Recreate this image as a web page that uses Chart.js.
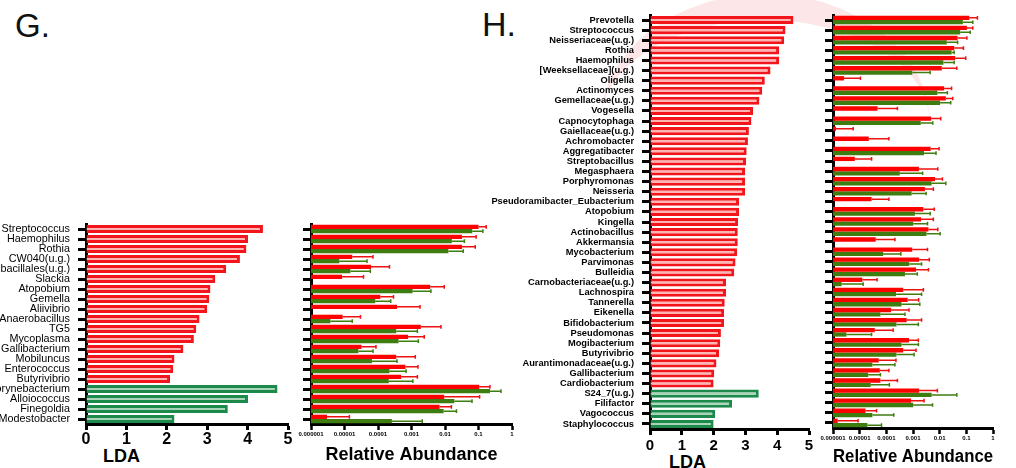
<!DOCTYPE html>
<html>
<head>
<meta charset="utf-8">
<script src="https://cdn.jsdelivr.net/npm/chart.js@4.4.0/dist/chart.umd.min.js"></script>
<style>
  body { margin: 0; width: 1016px; height: 468px; background: #fff; position: relative; overflow: hidden; font-family: "Liberation Sans", Arial, sans-serif; }
  canvas { position: absolute; }
  .tag { position: absolute; color: #111; line-height: 1; }
  .ttl { position: absolute; font-size: 18px; font-weight: bold; line-height: 18px; color: #000; }
  .arc { position: absolute; left: 600px; top: -6px; width: 330px; height: 260px; border-radius: 50%;
         border-top: 26px solid rgba(250, 200, 205, 0.45); box-sizing: border-box; }
</style>
</head>
<body>
<div class="arc"></div>
<div class="tag" style="left:15px; top:9px; font-size:33px;">G.</div>
<div class="tag" style="left:482px; top:7px; font-size:34px;">H.</div>
<div class="ttl" style="left:103px; top:447px;">LDA</div>
<div class="ttl" style="left:669px; top:453px;">LDA</div>

<canvas id="gLdaChart" width="300" height="268" style="left:0px; top:200px;"></canvas>
<canvas id="gRaChart" width="230" height="268" style="left:290px; top:200px;"></canvas>
<canvas id="hLdaChart" width="350" height="468" style="left:470px; top:0px;"></canvas>
<canvas id="hRaChart" width="206" height="468" style="left:810px; top:0px;"></canvas>

<script>
// ---------- panel G ----------
const gTaxa = ["Streptococcus", "Haemophilus", "Rothia", "CW040(u.g.)", "Lactobacillales(u.g.)", "Slackia",
  "Atopobium", "Gemella", "Aliivibrio", "Anaerobacillus", "TG5", "Mycoplasma", "Gallibacterium", "Mobiluncus",
  "Enterococcus", "Butyrivibrio", "Corynebacterium", "Alloiococcus", "Finegoldia", "Modestobacter"];
const gLda = [4.38, 4.01, 3.97, 3.81, 3.47, 3.20, 3.08, 3.05, 3.00, 2.81, 2.73, 2.67, 2.41, 2.19, 2.16, 2.08,
  4.74, 4.01, 3.51, 2.19];
const gRedCount = 16; // first 16 taxa = red group, rest green

const gRaRed = [0.1, 0.032, 0.032, 1.7e-5, 6.2e-5, 8.5e-6, 0.0036, 1.17e-4, 3.7e-4, 8.8e-6, 0.0019, 7.9e-4,
  3.2e-5, 3.5e-4, 6.6e-4, 4.9e-4, 0.105, 0.0095, 0.0069, 3e-6];
const gRaRedErr = [0.17, 0.085, 0.08, 7.1e-5, 2.2e-4, 3.7e-5, 0.0095, 2.9e-4, 0.0018, 3e-5, 0.0076, 0.0024,
  8.7e-5, 0.0013, 0.00156, 0.0015, 0.22, 0.108, 0.0155, 1.4e-5];
const gRaGreen = [0.065, 0.016, 0.0126, 7e-6, 1.5e-5, null, 0.00108, 8.3e-5, null, 3.8e-6, 3.5e-4, 4.1e-4,
  2.6e-5, 6.6e-5, 2.2e-4, 2.1e-4, 0.22, 0.019, 0.0091, 2.6e-4];
const gRaGreenErr = [0.135, 0.038, 0.035, 4.7e-5, 5.9e-5, null, 0.0038, 2.4e-4, null, 1.7e-5, 0.0015, 0.0016,
  7.1e-5, 3.7e-4, 6.9e-4, 0.0011, 0.47, 0.064, 0.022, 0.0021];

// ---------- panel H ----------
const hTaxa = ["Prevotella", "Streptococcus", "Neisseriaceae(u.g.)", "Rothia", "Haemophilus", "[Weeksellaceae](u.g.)",
  "Oligella", "Actinomyces", "Gemellaceae(u.g.)", "Vogesella", "Capnocytophaga", "Gaiellaceae(u.g.)", "Achromobacter",
  "Aggregatibacter", "Streptobacillus", "Megasphaera", "Porphyromonas", "Neisseria", "Pseudoramibacter_Eubacterium",
  "Atopobium", "Kingella", "Actinobacillus", "Akkermansia", "Mycobacterium", "Parvimonas", "Bulleidia",
  "Carnobacteriaceae(u.g.)", "Lachnospira", "Tannerella", "Eikenella", "Bifidobacterium", "Pseudomonas",
  "Mogibacterium", "Butyrivibrio", "Aurantimonadaceae(u.g.)", "Gallibacterium", "Cardiobacterium",
  "S24_7(u.g.)", "Filifactor", "Vagococcus", "Staphylococcus"];
const hLda = [4.51, 4.26, 4.22, 4.06, 4.06, 3.79, 3.61, 3.53, 3.44, 3.24, 3.19, 3.11, 3.08, 3.04, 3.02, 2.99, 2.99,
  2.99, 2.80, 2.80, 2.77, 2.76, 2.76, 2.74, 2.69, 2.65, 2.39, 2.39, 2.35, 2.33, 2.33, 2.23, 2.21, 2.17, 2.09, 2.02,
  2.00, 3.42, 2.58, 2.05, 2.00];
const hRedCount = 37;

const hRaRed = [0.13, 0.105, 0.047, 0.035, 0.038, 0.012, 2.6e-6, 0.0147, 0.017, 4.7e-5, 0.0048, 1.3e-6, 2.2e-5,
  0.0046, 6.6e-6, 0.00167, 0.0067, 0.0028, 2.8e-5, 0.00245, 0.002, 0.0038, 4e-5, 9.4e-4, 0.0017, 0.0013, 1.26e-5,
  4.3e-4, 6.3e-4, 1.5e-4, 5.8e-4, 3.7e-5, 7.1e-4, 4.3e-4, 5.2e-5, 5.7e-5, 6e-5, 0.0017, 8.4e-4, 1.65e-5, 1.5e-6];
const hRaRedErr = [0.26, 0.175, 0.105, 0.078, 0.095, 0.044, 1.07e-5, 0.028, 0.031, 2.6e-4, 0.011, 5.7e-6, 1.25e-4,
  0.0095, 2.8e-5, 0.0085, 0.0127, 0.0058, 1.25e-4, 0.0063, 0.0058, 0.0085, 2.1e-4, 0.0035, 0.0041, 0.0038, 4.5e-5,
  0.00245, 0.00163, 7.1e-4, 0.0021, 1.8e-4, 0.00159, 0.0013, 2.3e-4, 1.25e-4, 2.6e-4, 0.0082, 0.0026, 4.3e-5, 8.7e-6];
const hRaGreen = [0.074, 0.059, 0.0185, 0.028, 0.0138, 9.4e-4, null, 0.0082, 0.0104, null, 0.00195, null, null,
  0.0026, null, 3.2e-4, 0.005, 8.9e-4, null, 0.00118, 0.00102, 0.0032, null, 7.6e-5, 7.2e-4, 5e-4, 2.1e-6,
  2.3e-4, 3.7e-4, 6e-5, 2.4e-4, 3.2e-6, 3.7e-4, 2.4e-4, 3e-5, 2.1e-5, 2.6e-5, 0.005, 0.00102, 3e-5, 1.95e-5];
const hRaGreenErr = [0.175, 0.14, 0.047, 0.035, 0.035, 0.0044, null, 0.0195, 0.026, null, 0.0055, null, null,
  0.0073, null, 0.0023, 0.017, 0.0031, null, 0.0044, 0.0035, 0.0104, null, 3.5e-4, 0.0021, 0.00145, 1.35e-5,
  0.0021, 0.0018, 5e-4, 0.00159, 2.8e-5, 0.0016, 0.0011, 2.1e-4, 6e-5, 1.3e-4, 0.044, 0.0054, 1.9e-4, 6.6e-5];

// axis ticks
const ldaTicks = [0, 1, 2, 3, 4, 5];
const raTicks = [1e-6, 1e-5, 1e-4, 1e-3, 1e-2, 1e-1, 1];
const raTickLabels = ["0.000001", "0.00001", "0.0001", "0.001", "0.01", "0.1", "1"];

Chart.defaults.font.family = '"Liberation Sans", Arial, sans-serif';
Chart.defaults.color = '#000';

// draws the upper error whisker of every bar
const errorBars = {
  id: 'errorBars',
  afterDatasetsDraw(chart) {
    const ctx = chart.ctx;
    const xs = chart.scales.x;
    chart.data.datasets.forEach(function (ds, i) {
      if (!ds.errorBars) return;
      const meta = chart.getDatasetMeta(i);
      ctx.save();
      ctx.strokeStyle = ds.errorColor;
      ctx.lineWidth = 1.5;
      meta.data.forEach(function (bar, j) {
        const e = ds.errorBars[j];
        if (e == null || ds.data[j] == null) return;
        const x1 = xs.getPixelForValue(e);
        ctx.beginPath();
        ctx.moveTo(bar.x, bar.y);
        ctx.lineTo(x1, bar.y);
        ctx.moveTo(x1, bar.y - 1.8);
        ctx.lineTo(x1, bar.y + 1.8);
        ctx.stroke();
      });
      ctx.restore();
    });
  }
};

function axisBase(extra) {
  return Object.assign({
    z: 1,
    border: { display: true, color: '#000', width: 3 },
    grid: { drawOnChartArea: false, drawTicks: true, tickLength: 8, tickWidth: 3, tickColor: '#000', offset: false }
  }, extra);
}

function ldaChart(id, taxa, lda, redCount, o) {
  const fill = lda.map((v, i) => i < redCount ? '#ffb4b4' : '#a9d4b8');
  const edge = lda.map((v, i) => i < redCount ? '#f2161c' : '#1b8a4b');
  return new Chart(document.getElementById(id), {
    type: 'bar',
    data: {
      labels: taxa,
      datasets: [{ data: lda, backgroundColor: fill, borderColor: edge, borderWidth: 3,
        borderSkipped: 'start', categoryPercentage: 1, barPercentage: 0.8 }]
    },
    options: {
      indexAxis: 'y', responsive: false, animation: false,
      layout: { padding: { top: o.top, right: o.right, left: 0, bottom: 0 } },
      plugins: { legend: { display: false }, tooltip: { enabled: false } },
      scales: {
        y: axisBase({
          afterFit: s => { s.width = o.yWidth; },
          ticks: { autoSkip: false, padding: 8, font: o.labelFont, color: '#000' }
        }),
        x: axisBase({
          min: 0, max: 5,
          afterBuildTicks: s => { s.ticks = ldaTicks.map(v => ({ value: v })); },
          afterFit: s => { s.height = o.xHeight; },
          grid: { drawOnChartArea: false, tickLength: 6, tickWidth: 3, tickColor: '#000' },
          ticks: { autoSkip: false, maxRotation: 0, padding: o.tickPad, font: { size: o.tickSize, weight: 'bold' }, color: '#000' }
        })
      }
    }
  });
}

function raChart(id, taxa, red, redErr, green, greenErr, o) {
  return new Chart(document.getElementById(id), {
    type: 'bar',
    data: {
      labels: taxa,
      datasets: [
        { data: red, backgroundColor: '#ff0000', errorBars: redErr, errorColor: '#ee1111',
          categoryPercentage: 0.86, barPercentage: 1 },
        { data: green, backgroundColor: '#3e7e10', errorBars: greenErr, errorColor: '#3e7e10',
          categoryPercentage: 0.86, barPercentage: 1 }
      ]
    },
    options: {
      indexAxis: 'y', responsive: false, animation: false,
      layout: { padding: { top: o.top, right: o.right, left: 0, bottom: 0 } },
      plugins: { legend: { display: false }, tooltip: { enabled: false } },
      scales: {
        y: axisBase({
          afterFit: s => { s.width = o.yWidth; },
          ticks: { autoSkip: false, callback: () => '' }
        }),
        x: axisBase({
          type: 'logarithmic', min: 1e-6, max: 1,
          afterBuildTicks: s => { s.ticks = raTicks.map(v => ({ value: v })); },
          afterFit: s => { s.height = o.xHeight; },
          grid: { drawOnChartArea: false, tickLength: 6, tickWidth: 2.5, tickColor: '#000' },
          ticks: { autoSkip: false, maxRotation: 0, minRotation: 0, padding: 1,
            callback: (v, i) => raTickLabels[i], font: { size: 6, weight: 'bold' }, color: '#000' },
          title: { display: true, text: 'Relative Abundance', color: '#000',
            font: { size: 18, weight: 'bold' }, padding: { top: 0, bottom: o.titlePad } }
        })
      }
    },
    plugins: [errorBars]
  });
}

ldaChart('gLdaChart', gTaxa, gLda, gRedCount,
  { top: 24, right: 12, yWidth: 86, xHeight: 44, tickSize: 16, tickPad: 0, labelFont: { size: 10.8 } });
raChart('gRaChart', gTaxa, gRaRed, gRaRedErr, gRaGreen, gRaGreenErr,
  { top: 24, right: 8, yWidth: 21, xHeight: 44, titlePad: 2 });
ldaChart('hLdaChart', hTaxa, hLda, hRedCount,
  { top: 15, right: 11, yWidth: 180, xHeight: 39, tickSize: 15, tickPad: 2, labelFont: { size: 9.3, weight: 'bold' } });
raChart('hRaChart', hTaxa, hRaRed, hRaRedErr, hRaGreen, hRaGreenErr,
  { top: 15, right: 23, yWidth: 23, xHeight: 40, titlePad: 0 });
</script>
</body>
</html>
